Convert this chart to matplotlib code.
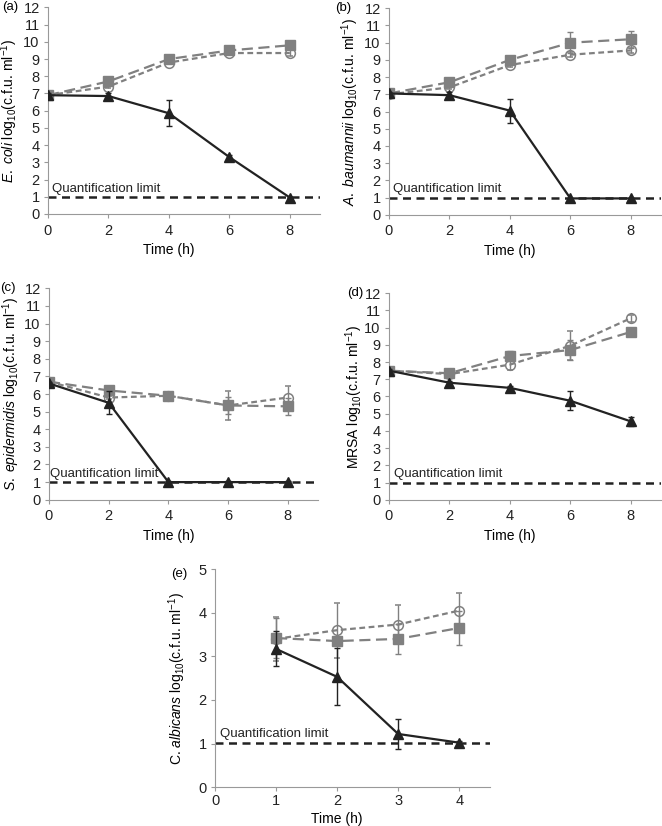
import numpy as np
import matplotlib.pyplot as plt

plt.rcParams['font.family'] = ['Liberation Sans', 'DejaVu Sans']
plt.rcParams['mathtext.fontset'] = 'custom'
plt.rcParams['mathtext.rm'] = 'Liberation Sans'
plt.rcParams['mathtext.it'] = 'Liberation Sans:italic'

# ---- data ----
t_bact = [0, 2, 4, 6, 8]
t_cand = [1, 2, 3, 4]

ecoli_sq = [6.9, 7.7, 9.0, 9.5, 9.8]
ecoli_ci = [6.9, 7.4, 8.8, 9.35, 9.35]
ecoli_tr = [6.9, 6.85, 5.85, 3.3, 0.95]
ecoli_sq_err = [0.1, 0.1, 0.1, 0.1, 0.1]
ecoli_ci_err = [0.1, 0.1, 0.1, 0.1, 0.15]
ecoli_tr_err = [0.1, 0.2, 0.75, 0.1, 0.05]

abau_sq = [7.05, 7.7, 9.0, 10.0, 10.2]
abau_ci = [7.0, 7.4, 8.7, 9.3, 9.55]
abau_tr = [7.05, 6.95, 6.05, 0.95, 0.95]
abau_sq_err = [0.1, 0.1, 0.1, 0.6, 0.5]
abau_ci_err = [0.1, 0.1, 0.1, 0.15, 0.15]
abau_tr_err = [0.1, 0.2, 0.7, 0.05, 0.05]

sepi_sq = [6.7, 6.2, 5.9, 5.35, 5.3]
sepi_ci = [6.7, 5.8, 5.9, 5.35, 5.8]
sepi_tr = [6.6, 5.5, 1.0, 1.0, 1.0]
sepi_sq_err = [0.1, 0.1, 0.2, 0.5, 0.5]
sepi_ci_err = [0.1, 0.1, 0.2, 0.8, 0.65]
sepi_tr_err = [0.1, 0.65, 0.05, 0.05, 0.05]

mrsa_sq = [7.5, 7.35, 8.35, 8.7, 9.75]
mrsa_ci = [7.5, 7.3, 7.85, 8.95, 10.55]
mrsa_tr = [7.5, 6.8, 6.5, 5.75, 4.55]
mrsa_sq_err = [0.1, 0.15, 0.3, 0.6, 0.1]
mrsa_ci_err = [0.1, 0.15, 0.3, 0.85, 0.2]
mrsa_tr_err = [0.1, 0.1, 0.1, 0.55, 0.25]

calb_sq = [3.42, 3.35, 3.4, 3.65]
calb_ci = [3.4, 3.6, 3.73, 4.05]
calb_tr = [3.17, 2.53, 1.22, 1.02]
calb_sq_err = [0.45, 0.1, 0.35, 0.4]
calb_ci_err = [0.5, 0.63, 0.45, 0.4]
calb_tr_err = [0.4, 0.65, 0.35, 0.03]

qlimit = [1.0, 1.0, 1.0, 1.0, 1.02]

panels = [
    ('(a)', r'$\it{E.\ coli}$ log$_{10}$(c.f.u. ml$^{-1}$)', t_bact,
     ecoli_sq, ecoli_ci, ecoli_tr, ecoli_sq_err, ecoli_ci_err, ecoli_tr_err),
    ('(b)', r'$\it{A.\ baumannii}$ log$_{10}$(c.f.u. ml$^{-1}$)', t_bact,
     abau_sq, abau_ci, abau_tr, abau_sq_err, abau_ci_err, abau_tr_err),
    ('(c)', r'$\it{S.\ epidermidis}$ log$_{10}$(c.f.u. ml$^{-1}$)', t_bact,
     sepi_sq, sepi_ci, sepi_tr, sepi_sq_err, sepi_ci_err, sepi_tr_err),
    ('(d)', r'MRSA log$_{10}$(c.f.u. ml$^{-1}$)', t_bact,
     mrsa_sq, mrsa_ci, mrsa_tr, mrsa_sq_err, mrsa_ci_err, mrsa_tr_err),
    ('(e)', r'C. $\it{albicans}$ log$_{10}$(c.f.u. ml$^{-1}$)', t_cand,
     calb_sq, calb_ci, calb_tr, calb_sq_err, calb_ci_err, calb_tr_err),
]

# axes rectangles in figure fraction
rects = [
    [0.0725, 0.741, 0.411, 0.250],
    [0.5876, 0.740, 0.411, 0.250],
    [0.0740, 0.395, 0.406, 0.256],
    [0.5876, 0.395, 0.411, 0.250],
    [0.3248, 0.047, 0.415, 0.264],
]
label_x = [0.003, 0.506, 0.0, 0.524, 0.259]
label_dy = [0, 0, 0, 0, -0.006]
qtext_x = [0.13, 0.13, 0.03, 0.15, 0.08]
ylab_x = [-0.103, -0.103, -0.100, -0.088, -0.10]
xpad = [4, 4, 4, 4, 2]
xlabpad = [4, 4, 4, 4, 2.5]

grey = '#808080'
dark = '#222222'
axis_col = '#999999'

fig = plt.figure(figsize=(6.62, 8.26), dpi=100)

for i, (lab, ylab, t, sq, ci, tr, sq_e, ci_e, tr_e) in enumerate(panels):
    ax = fig.add_axes(rects[i])
    cand = (i == 4)

    ax.axhline(qlimit[i], color=dark, lw=1.8, dashes=(3.2, 2.2), zorder=1)
    ax.text(qtext_x[i], qlimit[i] + (0.06 if cand else 0.12), 'Quantification limit',
            fontsize=9.5, va='bottom', ha='left', color='#222222')

    ax.errorbar(t, sq, yerr=sq_e, color=grey, lw=1.6, dashes=(5, 2.5),
                marker='s', ms=6.5, mfc=grey, mec=grey, ecolor=grey,
                elinewidth=1, capsize=2, zorder=3)
    ax.errorbar(t, ci, yerr=ci_e, color=grey, lw=1.6, dashes=(2.6, 1.6),
                marker='o', ms=7, mfc='none', mec=grey, mew=1.1, ecolor=grey,
                elinewidth=1, capsize=2, zorder=4)
    ax.errorbar(t, tr, yerr=tr_e, color=dark, lw=1.6,
                marker='^', ms=7, mfc=dark, mec=dark, ecolor=dark,
                elinewidth=1, capsize=2, zorder=5)

    if cand:
        ax.set_xlim(0, 4.5)
        ax.set_ylim(0, 5)
        ax.set_xticks([0, 1, 2, 3, 4])
        ax.set_yticks(range(0, 6))
    else:
        ax.set_xlim(0, 9)
        ax.set_ylim(0, 12)
        ax.set_xticks([0, 2, 4, 6, 8])
        ax.set_yticks(range(0, 13))

    for s in ['top', 'right']:
        ax.spines[s].set_visible(False)
    for s in ['left', 'bottom']:
        ax.spines[s].set_color(axis_col)
        ax.spines[s].set_linewidth(0.8)
    ax.tick_params(colors='#222222', labelsize=10.5, length=3, width=0.8,
                   color=axis_col)
    ax.tick_params(axis='x', pad=xpad[i])
    ax.tick_params(axis='y', pad=3)
    ax.set_xlabel('Time (h)', fontsize=10, labelpad=xlabpad[i], x=0.444)
    ax.set_ylabel(ylab, fontsize=10)
    ax.yaxis.set_label_coords(ylab_x[i], 0.5)

    pos = ax.get_position()
    fig.text(label_x[i], pos.y1 + label_dy[i], lab, fontsize=9.5, va='center', ha='left')

fig.savefig('out.png', dpi=100)
